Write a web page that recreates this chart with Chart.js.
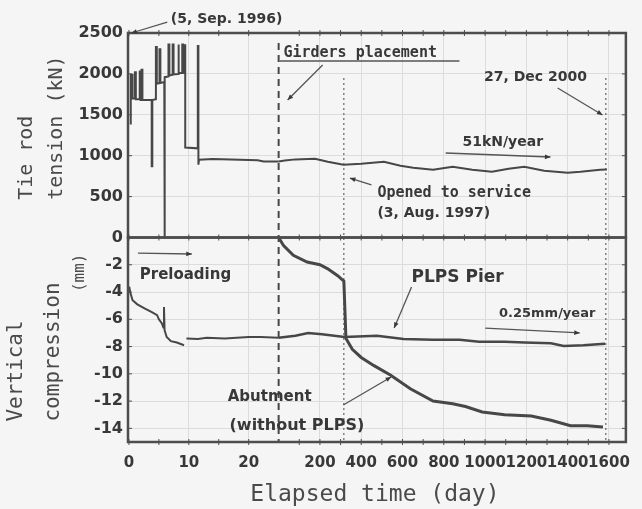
<!DOCTYPE html>
<html>
<head>
<meta charset="utf-8">
<script src="https://cdn.jsdelivr.net/npm/chart.js@4.4.0/dist/chart.umd.min.js"></script>
<style>
  html, body { margin: 0; padding: 0; background: #f5f5f5; }
</style>
</head>
<body>
<canvas id="chart" width="642" height="509"></canvas>
<script>
// the first 25 days are drawn stretched, after the girders the axis counts days again on a compressed scale
const earlyLabelDays = [0, 10, 20];
const earlyMinorDays = [5, 15];
const lateLabelDays = [200, 400, 600, 800, 1000, 1200, 1400, 1600];
const lateMinorDays = [100, 300, 500, 700, 900, 1100, 1300, 1500];
const tensionTicks = [0, 500, 1000, 1500, 2000, 2500];
const settleTicks = [-14, -12, -10, -8, -6, -4, -2];

// tie rod tension, kN
const tensionEarlyDays = [0.3, 0.3, 0.6, 0.6, 1.0, 1.0, 1.15, 1.15, 1.8, 1.8, 1.95, 1.95, 2.1, 2.1, 2.25, 2.25,
  3.8, 3.8, 3.9, 3.9, 4.5, 4.5, 4.65, 4.65, 5.1, 5.1, 5.25, 5.25, 5.9, 5.9, 6.0, 6.0,
  6.6, 6.6, 6.75, 6.75, 7.3, 7.3, 7.45, 7.45, 8.2, 8.2, 8.35, 8.35, 8.9, 8.9, 9.05, 9.05,
  9.3, 9.3, 9.4, 9.4, 11.5, 11.5, 11.6, 11.6, 11.7, 14, 17, 21.5, 22.5, 25];
const tensionEarlyKN = [1380, 1990, 1990, 1700, 1700, 2020, 2020, 1690, 1690, 2030, 2030, 1680, 1680, 2050, 2050, 1680,
  1680, 870, 870, 1680, 1690, 2330, 2330, 1880, 1890, 2300, 2300, 1890, 1900, 0, 0, 1960,
  1970, 2360, 2360, 1980, 1990, 2360, 2360, 1995, 2000, 2360, 2360, 2010, 2010, 2360, 2360, 2010,
  2010, 2350, 2350, 1100, 1090, 2340, 2340, 890, 950, 960, 955, 945, 930, 928];
const tensionLateDays = [0, 30, 81, 176, 238, 314, 400, 510, 590, 652, 748, 843, 938, 1033, 1114, 1190, 1286, 1400, 1462, 1557, 1590];
const tensionLateKN = [928, 940, 955, 963, 927, 890, 902, 927, 878, 854, 829, 866, 829, 805, 841, 866, 817, 793, 805, 829, 830];

// PLPS pier settlement, mm
const pierPreloadDays = [0.05, 0.2, 0.6, 1.4, 2.6, 3.9, 4.7, 5.0, 5.5, 5.75, 5.85, 5.95, 6.3, 7.0, 8.0, 9.2];
const pierPreloadMM = [-3.6, -4.0, -4.6, -4.9, -5.2, -5.5, -5.7, -6.0, -6.3, -6.6, -5.1, -6.8, -7.3, -7.6, -7.7, -7.9];
const pierEarlyDays = [9.6, 11.5, 13, 16, 20, 22, 25];
const pierEarlyMM = [-7.4, -7.45, -7.35, -7.4, -7.3, -7.3, -7.35];
const pierLateDays = [0, 81, 143, 210, 319, 476, 605, 748, 876, 971, 1095, 1190, 1319, 1381, 1476, 1581];
const pierLateMM = [-7.35, -7.2, -7.0, -7.1, -7.3, -7.2, -7.45, -7.5, -7.5, -7.65, -7.65, -7.7, -7.75, -7.95, -7.9, -7.8];

// abutment without PLPS, mm
const abutDays = [0, 24, 71, 138, 200, 238, 286, 316, 326, 357, 400, 462, 543, 638, 748, 843, 905, 986, 1095, 1224, 1319, 1414, 1495, 1571];
const abutMM = [0, -0.6, -1.3, -1.8, -2.0, -2.3, -2.8, -3.2, -7.4, -8.2, -8.8, -9.4, -10.1, -11.1, -12.0, -12.2, -12.4, -12.8, -13.0, -13.1, -13.4, -13.8, -13.8, -13.9];

const BREAK = 25;
const DAYS_PER_UNIT = 29;
const early = d => d;
const late = d => BREAK + d / DAYS_PER_UNIT;
const pts = (days, vals, f) => days.map((d, i) => ({ x: f(d), y: vals[i] }));

const xTicks = [].concat(
  earlyLabelDays.map(d => ({ u: early(d), label: String(d) })),
  earlyMinorDays.map(d => ({ u: early(d), label: '' })),
  lateLabelDays.map(d => ({ u: late(d), label: String(d) })),
  lateMinorDays.map(d => ({ u: late(d), label: '' }))
).sort((a, b) => a.u - b.u);

const ink = '#474747';
const textInk = '#383838';
const gridInk = '#dcdcdc';
const tickFont = { family: 'DejaVu Sans', size: 16, weight: 'bold' };

function arrowLine(ctx, x1, y1, x2, y2, head) {
  ctx.beginPath();
  ctx.moveTo(x1, y1);
  ctx.lineTo(x2, y2);
  ctx.stroke();
  if (!head) return;
  const a = Math.atan2(y2 - y1, x2 - x1);
  ctx.beginPath();
  ctx.moveTo(x2, y2);
  ctx.lineTo(x2 - 6 * Math.cos(a - 0.4), y2 - 6 * Math.sin(a - 0.4));
  ctx.lineTo(x2 - 6 * Math.cos(a + 0.4), y2 - 6 * Math.sin(a + 0.4));
  ctx.closePath();
  ctx.fill();
}

const decorPlugin = {
  id: 'decor',
  afterDatasetsDraw(chart) {
    const ctx = chart.ctx;
    const x = chart.scales.x, yt = chart.scales.yTension, ys = chart.scales.ySettle;
    const area = chart.chartArea;
    const X = u => x.getPixelForValue(u);
    const T = v => yt.getPixelForValue(v);
    const S = v => ys.getPixelForValue(v);

    ctx.save();
    // event lines
    ctx.strokeStyle = ink;
    ctx.lineWidth = 2;
    ctx.setLineDash([7, 5]);
    ctx.beginPath();
    ctx.moveTo(X(early(BREAK)), area.top + 10);
    ctx.lineTo(X(early(BREAK)), area.bottom);
    ctx.stroke();
    ctx.lineWidth = 1;
    ctx.setLineDash([2, 3]);
    [late(316), late(1585)].forEach(u => {
      ctx.beginPath();
      ctx.moveTo(X(u), T(1950));
      ctx.lineTo(X(u), area.bottom);
      ctx.stroke();
    });
    ctx.setLineDash([]);

    // panel frames and inward ticks
    ctx.lineWidth = 2.5;
    ctx.strokeStyle = '#4d4d4d';
    [yt, ys].forEach(s => ctx.strokeRect(area.left, s.top, area.right - area.left, s.bottom - s.top));
    ctx.lineWidth = 1;
    ctx.beginPath();
    xTicks.forEach(t => {
      const px = X(t.u);
      [area.top, yt.bottom, area.bottom].forEach(py => {
        ctx.moveTo(px, py - 3);
        ctx.lineTo(px, py + 3);
      });
    });
    tensionTicks.map(T).concat(settleTicks.map(S)).forEach(py => {
      ctx.moveTo(area.left, py);
      ctx.lineTo(area.left + 4, py);
      ctx.moveTo(area.right - 4, py);
      ctx.lineTo(area.right, py);
    });
    ctx.stroke();

    // notes
    ctx.fillStyle = textInk;
    ctx.strokeStyle = '#555';
    ctx.lineWidth = 1.3;
    ctx.textBaseline = 'middle';
    ctx.textAlign = 'left';
    const sans = s => 'bold ' + s + 'px "DejaVu Sans"';
    const mono = s => 'bold ' + s + 'px "DejaVu Sans Mono"';

    ctx.font = sans(14);
    ctx.fillText('(5, Sep. 1996)', X(7.0), T(2671));
    arrowLine(ctx, X(6.4), T(2634), X(0.4), T(2500), true);

    ctx.font = mono(15);
    ctx.fillText('Girders placement', X(25.8), T(2255));
    arrowLine(ctx, X(25.16), T(2158), X(55.2), T(2158), false);
    arrowLine(ctx, X(32.35), T(2109), X(26.5), T(1681), true);

    ctx.font = sans(14);
    ctx.fillText('27, Dec 2000', X(59.3), T(1962));
    arrowLine(ctx, X(71.6), T(1828), X(79.1), T(1498), true);

    ctx.fillText('51kN/year', X(55.7), T(1167));
    arrowLine(ctx, X(52.9), T(1033), X(70.4), T(984), true);

    ctx.font = mono(15);
    ctx.fillText('Opened to service', X(41.5), T(544));
    ctx.font = sans(14);
    ctx.fillText('(3, Aug. 1997)', X(41.5), T(300));
    arrowLine(ctx, X(40.5), T(642), X(36.9), T(727), true);

    ctx.font = sans(15);
    ctx.fillText('Preloading', X(1.8), S(-2.75));
    arrowLine(ctx, X(1.5), S(-1.14), X(10.5), S(-1.21), true);

    ctx.font = sans(17);
    ctx.fillText('PLPS Pier', X(47.2), S(-2.97));
    arrowLine(ctx, X(47.2), S(-3.63), X(44.3), S(-6.64), true);

    ctx.font = sans(13);
    ctx.fillText('0.25mm/year', X(61.8), S(-5.61));
    arrowLine(ctx, X(59.5), S(-6.64), X(75.3), S(-7.0), true);

    ctx.font = sans(15);
    ctx.fillText('Abutment', X(16.5), S(-11.7));
    ctx.font = sans(16);
    ctx.fillText('(without PLPS)', X(16.8), S(-13.83));
    arrowLine(ctx, X(35.8), S(-12.29), X(43.8), S(-10.23), true);

    // axis titles
    ctx.fillStyle = '#4a4a4a';
    ctx.font = '23px "DejaVu Sans Mono"';
    ctx.textAlign = 'center';
    ctx.fillText('Elapsed time (day)', (area.left + area.right) / 2 - 2, 495);

    const vertical = (text, cx, bottom, size) => {
      ctx.save();
      ctx.translate(cx, bottom);
      ctx.rotate(-Math.PI / 2);
      ctx.font = size + 'px "DejaVu Sans Mono"';
      ctx.textAlign = 'left';
      ctx.textBaseline = 'middle';
      ctx.fillText(text, 0, 0);
      ctx.restore();
    };
    vertical('Tie rod', 27, T(460), 20);
    vertical('tension (kN)', 57, T(460), 20);
    vertical('Vertical', 17, S(-13.5), 21);
    vertical('compression', 54, S(-13.5), 21);
    vertical('(mm)', 80, S(-4.0), 16);
    ctx.restore();
  }
};

const lineStyle = (data, yAxisID, width) => ({
  data, yAxisID, xAxisID: 'x',
  borderColor: ink, borderWidth: width,
  pointRadius: 0, tension: 0, fill: false
});

new Chart(document.getElementById('chart'), {
  type: 'line',
  data: {
    datasets: [
      lineStyle(pts(abutDays, abutMM, late), 'ySettle', 3),
      lineStyle(pts(pierPreloadDays, pierPreloadMM, early), 'ySettle', 2),
      lineStyle(pts(pierEarlyDays, pierEarlyMM, early), 'ySettle', 2),
      lineStyle(pts(pierLateDays, pierLateMM, late), 'ySettle', 2.5),
      lineStyle(pts(tensionEarlyDays, tensionEarlyKN, early), 'yTension', 2),
      lineStyle(pts(tensionLateDays, tensionLateKN, late), 'yTension', 2)
    ]
  },
  options: {
    responsive: false,
    animation: false,
    layout: { padding: { top: 33, right: 5, left: 0, bottom: 0 } },
    plugins: { legend: { display: false }, tooltip: { enabled: false } },
    scales: {
      x: {
        type: 'linear', min: -0.16, max: 83,
        afterBuildTicks: ax => { ax.ticks = xTicks.map(t => ({ value: t.u })); },
        afterFit: s => { s.height = 67; },
        ticks: {
          autoSkip: false, maxRotation: 0, minRotation: 0, padding: 12,
          font: { family: 'DejaVu Sans', size: 15, weight: 'bold' }, color: textInk,
          callback: (v, i) => xTicks[i].label
        },
        grid: { color: c => (xTicks[c.index] && xTicks[c.index].label) ? gridInk : 'rgba(0,0,0,0)', drawTicks: false, lineWidth: 1 },
        border: { display: false }
      },
      ySettle: {
        type: 'linear', position: 'left', stack: 'panels', stackWeight: 1,
        min: -15, max: 0,
        afterBuildTicks: ax => { ax.ticks = settleTicks.map(v => ({ value: v })); },
        afterFit: s => { s.width = 128; },
        ticks: { autoSkip: false, padding: 5, font: tickFont, color: textInk, callback: v => String(v) },
        grid: { color: gridInk, drawTicks: false },
        border: { display: false }
      },
      yTension: {
        type: 'linear', position: 'left', stack: 'panels', stackWeight: 1,
        min: 0, max: 2500,
        afterBuildTicks: ax => { ax.ticks = tensionTicks.map(v => ({ value: v })); },
        afterFit: s => { s.width = 128; },
        ticks: { autoSkip: false, padding: 5, font: tickFont, color: textInk, callback: v => String(v) },
        grid: { color: gridInk, drawTicks: false },
        border: { display: false }
      }
    }
  },
  plugins: [decorPlugin]
});
</script>
</body>
</html>
